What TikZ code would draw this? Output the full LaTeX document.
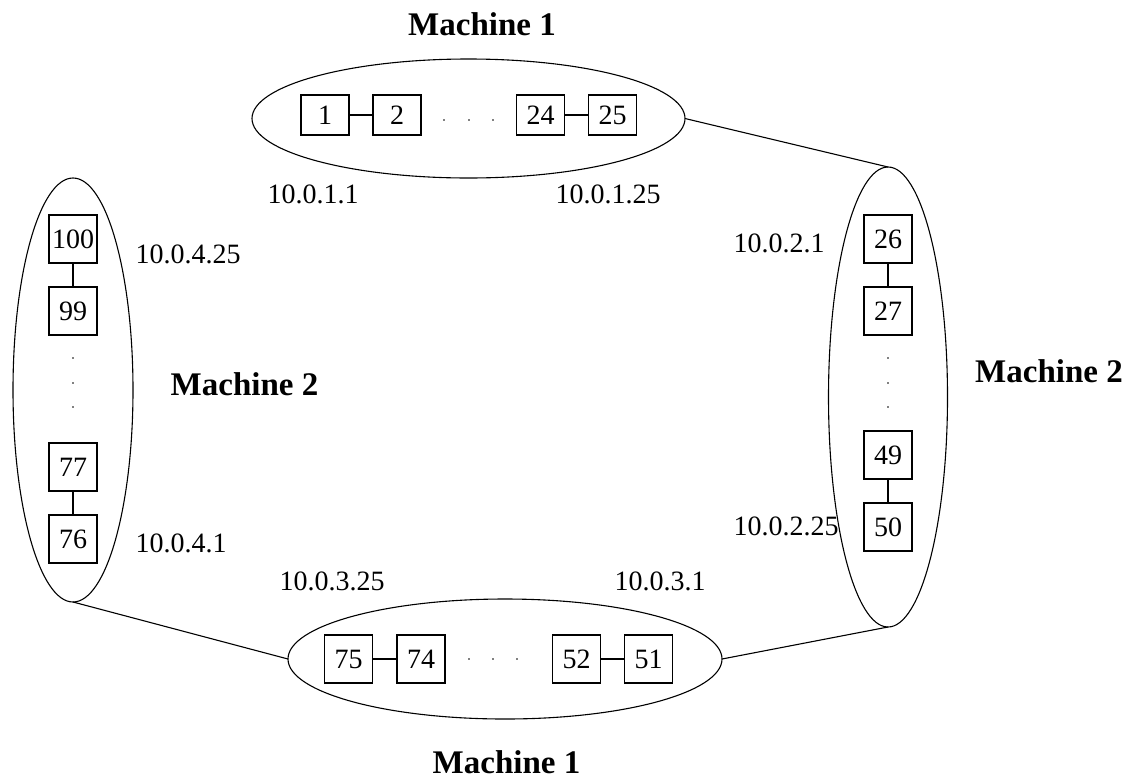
\documentclass[tikz,border=0pt]{standalone}
\usepackage{fontspec}
\setmainfont{Liberation Serif}
\usetikzlibrary{shapes.geometric}
\begin{document}
\begin{tikzpicture}[x=1pt,y=-1pt,line width=1.1pt,
  host/.style={draw,ellipse,inner sep=0pt,outer sep=0pt},
  vm/.style={draw,rectangle,inner sep=0pt,outer sep=0pt,minimum width=48pt,minimum height=48pt,
    font=\fontsize{28}{32}\selectfont},
  vmflat/.style={vm,minimum height=40pt},
  addr/.style={inner sep=0pt,anchor=base west,font=\fontsize{28}{32}\selectfont},
  mach/.style={inner sep=0pt,anchor=base,font=\fontsize{33}{38}\selectfont\bfseries},
  dot/.style={fill,circle,inner sep=0pt,minimum size=1.6pt}]
\useasboundingbox (0,0) rectangle (1126,782);

% machines (ellipses)
\node[host,minimum width=433pt,minimum height=119pt] (top) at (468.5,118.5) {};
\node[host,minimum width=120pt,minimum height=424pt] (left) at (73,390) {};
\node[host,minimum width=119pt,minimum height=460pt] (right) at (888,397) {};
\node[host,minimum width=434pt,minimum height=120pt] (bottom) at (505,659) {};

% ring links between machines
\draw (top.east) -- (right.north);
\draw (right.south) -- (bottom.east);
\draw (bottom.west) -- (left.south);

% top machine
\node[vmflat] (n1) at (325,115) {1};
\node[vmflat] (n2) at (397,115) {2};
\node[vmflat] (n24) at (540.5,115) {24};
\node[vmflat] (n25) at (612.5,115) {25};
\draw (n1) -- (n2);
\draw (n24) -- (n25);
\node[dot] (td1) at (444,120) {};
\node[dot] (td2) at (469,120) {};
\node[dot] (td3) at (493,120) {};

% right machine
\node[vm] (n26) at (888,239) {26};
\node[vm] (n27) at (888,311) {27};
\node[vm] (n49) at (888,455) {49};
\node[vm] (n50) at (888,527) {50};
\draw (n26) -- (n27);
\draw (n49) -- (n50);
\node[dot] (rd1) at (888,358) {};
\node[dot] (rd2) at (888,383) {};
\node[dot] (rd3) at (888,407) {};

% bottom machine
\node[vm] (n75) at (348.5,659) {75};
\node[vm] (n74) at (421,659) {74};
\node[vm] (n52) at (576.5,659) {52};
\node[vm] (n51) at (648.5,659) {51};
\draw (n75) -- (n74);
\draw (n52) -- (n51);
\node[dot] (bd1) at (469,659) {};
\node[dot] (bd2) at (493,659) {};
\node[dot] (bd3) at (517,659) {};

% left machine
\node[vm] (n100) at (73,239) {100};
\node[vm] (n99) at (73,311) {99};
\node[vm] (n77) at (73,467) {77};
\node[vm] (n76) at (73,539) {76};
\draw (n100) -- (n99);
\draw (n77) -- (n76);
\node[dot] (ld1) at (73,358) {};
\node[dot] (ld2) at (73,383) {};
\node[dot] (ld3) at (73,407) {};

% addresses
\node[addr] (a11) at (267,203) {10.0.1.1};
\node[addr] (a125) at (555,203) {10.0.1.25};
\node[addr] (a21) at (733,252) {10.0.2.1};
\node[addr] (a225) at (733,535) {10.0.2.25};
\node[addr] (a325) at (279,590) {10.0.3.25};
\node[addr] (a31) at (614,590) {10.0.3.1};
\node[addr] (a425) at (135,263) {10.0.4.25};
\node[addr] (a41) at (135,552) {10.0.4.1};

% machine labels
\node[mach] (m1t) at (482,35) {Machine 1};
\node[mach] (m2r) at (1049,382) {Machine 2};
\node[mach] (m2l) at (244.5,395) {Machine 2};
\node[mach] (m1b) at (506.5,773) {Machine 1};
\end{tikzpicture}
\end{document}
